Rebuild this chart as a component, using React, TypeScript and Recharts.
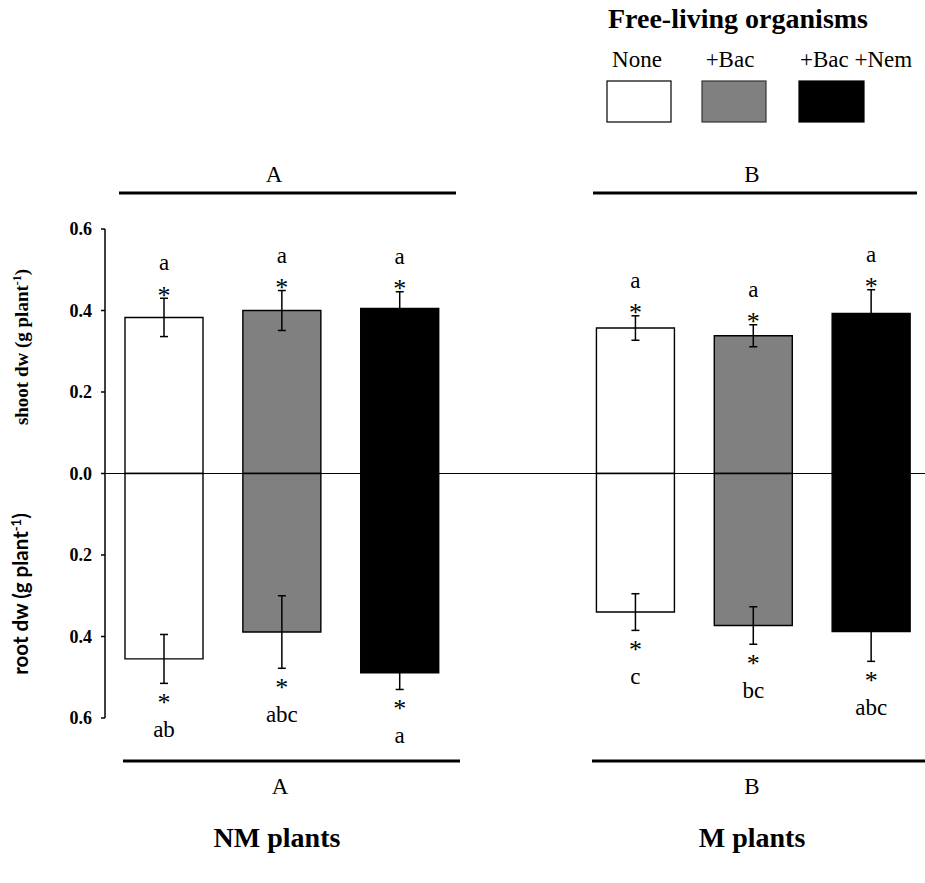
import React from 'react';
import { BarChart, Bar, XAxis, YAxis, ErrorBar, ReferenceLine, LabelList, Cell } from 'recharts';

const groups = ['NM plants', 'M plants'];
const groupLetters = ['A', 'B'];
const treatments = ['None', '+Bac', '+Bac +Nem'];
const treatmentFills = ['#ffffff', '#808080', '#000000'];

// order: NM None, NM +Bac, NM +Bac+Nem, M None, M +Bac, M +Bac+Nem
const shootMean = [0.383, 0.4, 0.405, 0.357, 0.338, 0.393];
const shootSE = [0.047, 0.049, 0.041, 0.03, 0.027, 0.058];
const rootMean = [0.455, 0.389, 0.489, 0.34, 0.373, 0.388];
const rootSE = [0.06, 0.089, 0.041, 0.045, 0.046, 0.073];
const shootLetters = ['a', 'a', 'a', 'a', 'a', 'a'];
const rootLetters = ['ab', 'abc', 'a', 'c', 'bc', 'abc'];
const yTicks = [-0.6, -0.4, -0.2, 0, 0.2, 0.4, 0.6];

type Row = {
  key: string;
  shoot: number | null;
  root: number | null;
  shootErr?: number;
  rootErr?: number;
  shootLetter?: string;
  rootLetter?: string;
  fill: string;
};

const rows: Row[] = [];
groups.forEach((g, gi) => {
  if (gi > 0) rows.push({ key: 'gap' + gi, shoot: null, root: null, fill: 'none' });
  treatments.forEach((t, ti) => {
    const i = gi * 3 + ti;
    rows.push({
      key: g + ' ' + t,
      shoot: shootMean[i],
      root: -rootMean[i],
      shootErr: shootSE[i],
      rootErr: rootSE[i],
      shootLetter: shootLetters[i],
      rootLetter: rootLetters[i],
      fill: treatmentFills[ti],
    });
  });
});

const SERIF = "'Liberation Serif', 'Times New Roman', serif";
const FS = 23;

const makeLabel = (kind: 'shoot' | 'root') => (props: any) => {
  const { x, y, width, height, value } = props;
  const row: Row | undefined = value && typeof value === 'object' ? (value as Row) : undefined;
  if (!row || row[kind] == null) return null;
  const h = Math.abs(Number(height));
  const v = Math.abs(Number(row[kind]));
  if (!v) return null;
  const ppu = h / v;
  const cx = Number(x) + Number(width) / 2;
  const err = (kind === 'shoot' ? row.shootErr : row.rootErr) || 0;
  const letter = kind === 'shoot' ? row.shootLetter : row.rootLetter;
  let starC: number;
  let letC: number;
  if (kind === 'shoot') {
    const top = Math.min(Number(y), Number(y) + Number(height));
    const errEnd = top - err * ppu;
    starC = errEnd - 8.5;
    letC = starC - 25.5;
  } else {
    const bot = Math.max(Number(y), Number(y) + Number(height));
    const errEnd = bot + err * ppu;
    starC = errEnd + 14;
    letC = starC + 34;
  }
  return (
    <g>
      <text x={cx} y={starC + 14} textAnchor="middle" fontFamily={SERIF} fontSize={26} fill="#000">*</text>
      <text x={cx} y={letC + 6} textAnchor="middle" fontFamily={SERIF} fontSize={FS} fill="#000">{letter}</text>
    </g>
  );
};

const wholeRow = (d: Row) => d;

export default function App() {
  return (
    <div style={{ position: 'absolute', left: 0, top: 0, width: 925, height: 883, background: '#fff' }}>
      <BarChart
        width={925}
        height={883}
        data={rows}
        stackOffset="sign"
        margin={{ top: 229, right: -5, bottom: 165, left: 45 }}
      >
        <XAxis dataKey="key" type="category" hide />
        <YAxis
          width={60}
          domain={[-0.6, 0.6]}
          ticks={yTicks}
          interval={0}
          allowDataOverflow
          tickFormatter={(v: number) => Math.abs(v).toFixed(1)}
          axisLine={{ stroke: '#000', strokeWidth: 1.5 }}
          tickLine={{ stroke: '#000', strokeWidth: 1.5 }}
          tickSize={4}
          tickMargin={9}
          tick={{ fontFamily: SERIF, fontWeight: 'bold', fontSize: 18, fill: '#000' }}
        />
        <Bar dataKey="shoot" stackId="s" barSize={78} stroke="#000" strokeWidth={1.4} isAnimationActive={false}>
          {rows.map((r) => (
            <Cell key={r.key} fill={r.fill} />
          ))}
          <ErrorBar dataKey="shootErr" width={4} stroke="#000" strokeWidth={1.5} />
          <LabelList dataKey={wholeRow as any} content={makeLabel('shoot')} />
        </Bar>
        <Bar dataKey="root" stackId="s" barSize={78} stroke="#000" strokeWidth={1.4} isAnimationActive={false}>
          {rows.map((r) => (
            <Cell key={r.key} fill={r.fill} />
          ))}
          <ErrorBar dataKey="rootErr" width={4} stroke="#000" strokeWidth={1.5} />
          <LabelList dataKey={wholeRow as any} content={makeLabel('root')} />
        </Bar>
        <ReferenceLine y={0} stroke="#000" strokeWidth={1.2} ifOverflow="visible" />
      </BarChart>

      <svg width={925} height={883} style={{ position: 'absolute', left: 0, top: 0, pointerEvents: 'none' }}>
        {/* legend */}
        <text x={738} y={28} textAnchor="middle" fontFamily={SERIF} fontWeight="bold" fontSize={28} fill="#000">
          Free-living organisms
        </text>
        <text x={637} y={67} textAnchor="middle" fontFamily={SERIF} fontSize={FS} fill="#000">{treatments[0]}</text>
        <text x={730} y={67} textAnchor="middle" fontFamily={SERIF} fontSize={FS} fill="#000">{treatments[1]}</text>
        <text x={800} y={67} textAnchor="start" fontFamily={SERIF} fontSize={FS} fill="#000">{treatments[2]}</text>
        <rect x={607} y={81} width={64} height={41} fill={treatmentFills[0]} stroke="#000" strokeWidth={1.2} />
        <rect x={702} y={81} width={64} height={41} fill={treatmentFills[1]} stroke="#333" strokeWidth={1.2} />
        <rect x={799} y={81} width={65} height={41} fill={treatmentFills[2]} stroke="#000" strokeWidth={1.2} />

        {/* top brackets */}
        <line x1={119} x2={456} y1={193} y2={193} stroke="#000" strokeWidth={3} />
        <text x={274} y={182} textAnchor="middle" fontFamily={SERIF} fontSize={FS} fill="#000">{groupLetters[0]}</text>
        <line x1={593} x2={917} y1={193} y2={193} stroke="#000" strokeWidth={3} />
        <text x={752} y={182} textAnchor="middle" fontFamily={SERIF} fontSize={FS} fill="#000">{groupLetters[1]}</text>

        {/* bottom brackets */}
        <line x1={123} x2={460} y1={761} y2={761} stroke="#000" strokeWidth={3} />
        <text x={280} y={794} textAnchor="middle" fontFamily={SERIF} fontSize={FS} fill="#000">{groupLetters[0]}</text>
        <line x1={592} x2={925} y1={761} y2={761} stroke="#000" strokeWidth={3} />
        <text x={752} y={794} textAnchor="middle" fontFamily={SERIF} fontSize={FS} fill="#000">{groupLetters[1]}</text>

        {/* group titles */}
        <text x={277} y={847} textAnchor="middle" fontFamily={SERIF} fontWeight="bold" fontSize={28} fill="#000">{groups[0]}</text>
        <text x={752} y={847} textAnchor="middle" fontFamily={SERIF} fontWeight="bold" fontSize={28} fill="#000">{groups[1]}</text>

        {/* axis titles */}
        <text transform="translate(28,347) rotate(-90)" textAnchor="middle" fontFamily={SERIF} fontWeight="bold" fontSize={19} fill="#000">
          shoot dw (g plant<tspan dy={-7} fontSize={12}>-1</tspan><tspan dy={7}>)</tspan>
        </text>
        <text transform="translate(28,594) rotate(-90)" textAnchor="middle" fontFamily="Lato, 'Open Sans', sans-serif" fontWeight="bold" fontSize={20.5} fill="#000">
          root dw (g plant<tspan dy={-7} fontSize={13}>-1</tspan><tspan dy={7}>)</tspan>
        </text>
      </svg>
    </div>
  );
}
